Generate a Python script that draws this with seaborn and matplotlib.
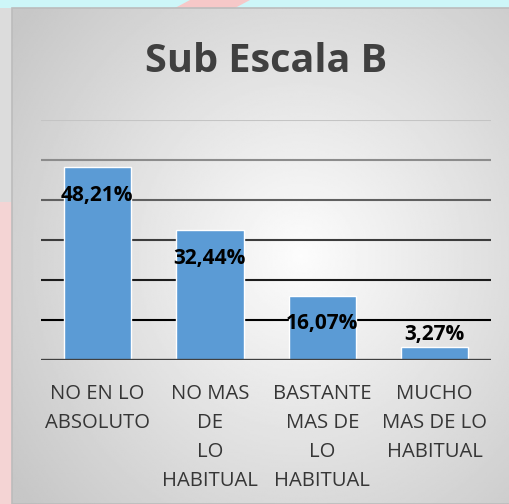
import numpy as np
import pandas as pd
import matplotlib
matplotlib.use('Agg')
import matplotlib.pyplot as plt
from matplotlib.patches import Polygon, Rectangle
import seaborn as sns

# Data
categories = [
    'NO EN LO\nABSOLUTO',
    'NO MAS\nDE\nLO\nHABITUAL',
    'BASTANTE\nMAS DE\nLO\nHABITUAL',
    'MUCHO\nMAS DE LO\nHABITUAL',
]
values = [48.21, 32.44, 16.07, 3.27]
value_labels = ['48,21%', '32,44%', '16,07%', '3,27%']

df = pd.DataFrame({'cat': categories, 'pct': values})

sns.set_theme(style='white')
plt.rcParams['font.family'] = ['Open Sans', 'DejaVu Sans']

fig = plt.figure(figsize=(5.1, 5.04), dpi=100)
fig.patch.set_facecolor('#dcdcdc')

# slide background behind the chart panel
fig.patches.append(Rectangle((0, 1 - 8 / 504), 1, 8 / 504, transform=fig.transFigure,
                             facecolor='#cdf6f8', edgecolor='none', zorder=0))
fig.patches.append(Polygon([(190 / 510, 1), (250 / 510, 1), (235 / 510, 1 - 8 / 504), (175 / 510, 1 - 8 / 504)],
                           closed=True, transform=fig.transFigure,
                           facecolor='#f6c8c8', edgecolor='none', zorder=0))
fig.patches.append(Rectangle((0, 0), 12 / 510, 0.6, transform=fig.transFigure,
                             facecolor='#f4d4d4', edgecolor='none', zorder=0))

# chart panel with radial gradient
bg = fig.add_axes([12 / 510, 0, 1 - 12 / 510, 1 - 8 / 504], zorder=0)
yy, xx = np.mgrid[0:1:300j, 0:1:300j]
r = np.sqrt(((xx - 0.58) / 0.75) ** 2 + ((yy - 0.5) / 0.8) ** 2)
shade = np.clip(0.99 - 0.22 * r, 0.78, 0.99)
bg.imshow(shade, cmap='gray', vmin=0, vmax=1, aspect='auto', extent=[0, 1, 0, 1])
bg.set_axis_off()
fig.patches.append(Rectangle((12 / 510, 0), 1 - 12 / 510, 1 - 8 / 504, transform=fig.transFigure,
                             facecolor='none', edgecolor='#bcbcbc', linewidth=1.2, zorder=1))

ax = fig.add_axes([41 / 510, 1 - 360 / 504, 450 / 510, 240 / 504], zorder=1)
ax.patch.set_alpha(0)

sns.barplot(data=df, x='cat', y='pct', color='#5B9BD5', width=0.6, saturation=1,
            edgecolor='white', linewidth=1, ax=ax, zorder=3)

ax.set_ylim(0, 60)
ax.set_yticks([])
grid_colors = ['#000000', '#1c1c1c', '#3c3c3c', '#606060', '#8c8c8c', '#c4c4c4']
for level, c in zip([10, 20, 30, 40, 50, 60], grid_colors):
    ax.axhline(level, color=c, linewidth=1.5, zorder=1)
ax.axhline(0, color='#404040', linewidth=2.4, zorder=4)

for s in ax.spines.values():
    s.set_visible(False)

ax.set_xlabel('')
ax.set_ylabel('')
ax.tick_params(axis='x', length=0, pad=17, labelsize=14.6, labelcolor='#363636')
for t in ax.get_xticklabels():
    t.set_linespacing(1.6)
    t.set_horizontalalignment('center')

for i, (v, lab) in enumerate(zip(values, value_labels)):
    y = v - 7 if v > 10 else v + 3
    ax.text(i, y, lab, ha='center', va='center', fontsize=15, fontweight='bold',
            color='black', zorder=5)

fig.text(266 / 510, 1 - 61 / 504, 'Sub Escala B', ha='center', va='center',
         fontsize=28.5, fontweight='bold', color='#404040')

fig.savefig('out.png', dpi=100)
